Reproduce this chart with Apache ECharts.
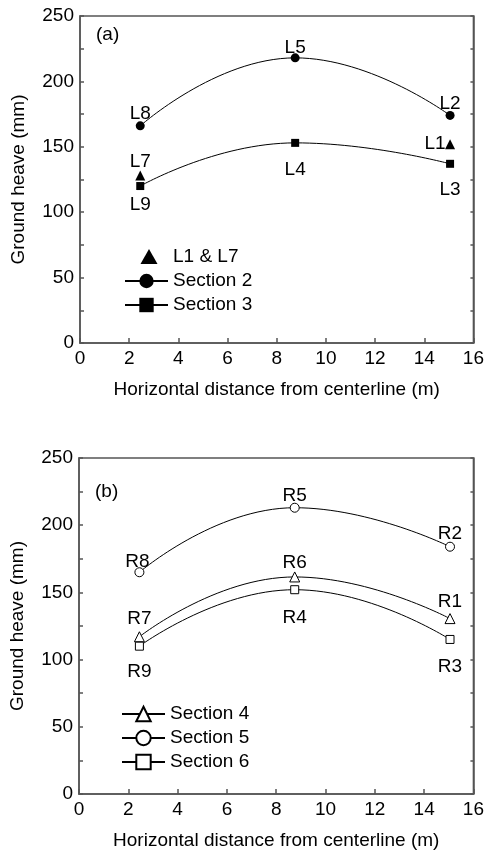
<!DOCTYPE html>
<html>
<head>
<meta charset="utf-8">
<script src="https://cdn.jsdelivr.net/npm/echarts@6/dist/echarts.min.js"></script>
<style>
html, body { margin: 0; padding: 0; background: #fff; }
#main { width: 487px; height: 853px; }
</style>
</head>
<body>
<div id="main"></div>
<script>
// distances from centerline (m)
var xPos = [2.45, 8.75, 15.05];
var xTicks = [0, 2, 4, 6, 8, 10, 12, 14, 16];
var yTicks = [0, 50, 100, 150, 200, 250];

// (a) left side
var triX = [2.45, 15.05];
var triVal = [128, 152];
var triLabels = ['L7', 'L1'];
var sec2 = [166, 218, 174];
var sec2Labels = ['L8', 'L5', 'L2'];
var sec3 = [120, 153, 137];
var sec3Labels = ['L9', 'L4', 'L3'];

// (b) right side
var sec4 = [117, 161.5, 130.5];
var sec4Labels = ['R7', 'R6', 'R1'];
var sec5 = [165, 213, 184];
var sec5Labels = ['R8', 'R5', 'R2'];
var sec6 = [110, 152, 115];
var sec6Labels = ['R9', 'R4', 'R3'];

var FONT = "'Liberation Sans', Arial, sans-serif";
var axisCol = '#555';

var func = function(){};

func.pts = function(xs, ys) {
    var out = [];
    for (var i = 0; i < ys.length; i++) {
        out.push([xs[i], ys[i]]);
    }
    return out;
};

func.xAx = function(idx) {
    return {
        type: 'value',
        gridIndex: idx,
        min: 0,
        max: 16,
        interval: 2,
        name: 'Horizontal distance from centerline (m)',
        nameLocation: 'middle',
        nameGap: 37,
        nameTextStyle: { color: '#000', fontSize: 19, fontFamily: FONT },
        axisLine: { lineStyle: { color: axisCol, width: 1.5 } },
        axisTick: { inside: true, length: 5, lineStyle: { color: axisCol, width: 1.5 } },
        axisLabel: {
            color: '#000', fontSize: 19, fontFamily: FONT, margin: 6,
            formatter: function(v) { return xTicks.indexOf(v) > -1 ? String(v) : ''; }
        },
        splitLine: { show: false }
    };
};

func.yAx = function(idx) {
    return {
        type: 'value',
        gridIndex: idx,
        min: 0,
        max: 250,
        interval: 50,
        name: 'Ground heave (mm)',
        nameLocation: 'middle',
        nameGap: 52,
        nameTextStyle: { color: '#000', fontSize: 19, fontFamily: FONT },
        axisLine: { show: true, lineStyle: { color: axisCol, width: 1.5 } },
        axisTick: { inside: true, length: 4, lineStyle: { color: axisCol, width: 1.5 } },
        minorTick: { show: true, splitNumber: 2, length: 4, lineStyle: { color: axisCol, width: 1.5 } },
        axisLabel: {
            color: '#000', fontSize: 19, fontFamily: FONT, margin: 6,
            formatter: function(v) { return yTicks.indexOf(v) > -1 ? String(v) : ''; }
        },
        splitLine: { show: false }
    };
};

func.yRight = function(idx) {
    return {
        type: 'value',
        gridIndex: idx,
        position: 'right',
        min: 0,
        max: 250,
        interval: 25,
        axisLine: { show: true, lineStyle: { color: axisCol, width: 1.5 } },
        axisTick: { inside: true, length: 3, lineStyle: { color: axisCol, width: 1.5 } },
        axisLabel: { show: false },
        splitLine: { show: false }
    };
};

func.lineSeries = function(name, xi, yi, data, symbol, size, open, names, offs) {
    var d = [];
    for (var i = 0; i < data.length; i++) {
        d.push({
            value: data[i],
            label: { offset: offs[i] }
        });
    }
    return {
        name: name,
        type: 'line',
        xAxisIndex: xi,
        yAxisIndex: yi,
        data: d,
        smooth: 0.5,
        symbol: symbol,
        symbolSize: size,
        showAllSymbol: true,
        lineStyle: { color: '#000', width: 1 },
        itemStyle: open
            ? { color: '#fff', borderColor: '#000', borderWidth: 1, opacity: 1 }
            : { color: '#000', borderColor: '#000', borderWidth: 0, opacity: 1 },
        label: {
            show: true,
            position: 'inside',
            color: '#000',
            fontSize: 19,
            fontFamily: FONT,
            formatter: function(p) { return names[p.dataIndex]; }
        },
        emphasis: { disabled: true },
        z: 3
    };
};

// triangle icon kept at its own size inside the 43x18 legend box
var triIcon = 'path://M0,0M43,18M15.5,16L32.5,16L24,1Z';

var chart = echarts.init(document.getElementById('main'), null, { renderer: 'canvas' });

var option = {
    animation: false,
    backgroundColor: '#fff',
    title: [
        { text: '(a)', left: 96, top: 25, padding: 0, textStyle: { fontSize: 19, fontWeight: 'normal', color: '#000', fontFamily: FONT } },
        { text: '(b)', left: 95, top: 482, padding: 0, textStyle: { fontSize: 19, fontWeight: 'normal', color: '#000', fontFamily: FONT } }
    ],
    grid: [
        { left: 80, top: 16, width: 396, height: 327, show: true, borderColor: axisCol, borderWidth: 1.5, backgroundColor: 'transparent', containLabel: false },
        { left: 78, top: 458, width: 400, height: 336, show: true, borderColor: axisCol, borderWidth: 1.5, backgroundColor: 'transparent', containLabel: false }
    ],
    legend: [
        {
            orient: 'vertical', left: 124, top: 247, padding: 0,
            itemWidth: 43, itemHeight: 18, itemGap: 4,
            data: [{ name: 'L1 & L7', icon: triIcon }, 'Section 2', 'Section 3'],
            textStyle: { color: '#000', fontSize: 19, fontFamily: FONT, lineHeight: 20 }
        },
        {
            orient: 'vertical', left: 121, top: 704, padding: 0,
            itemWidth: 43, itemHeight: 18, itemGap: 4,
            data: ['Section 4', 'Section 5', 'Section 6'],
            textStyle: { color: '#000', fontSize: 19, fontFamily: FONT, lineHeight: 20 }
        }
    ],
    xAxis: [func.xAx(0), func.xAx(1)],
    yAxis: [func.yAx(0), func.yRight(0), func.yAx(1), func.yRight(1)],
    series: [
        {
            name: 'L1 & L7',
            type: 'scatter',
            xAxisIndex: 0,
            yAxisIndex: 0,
            data: [
                { value: [triX[0], triVal[0]], label: { offset: [0, -14] } },
                { value: [triX[1], triVal[1]], label: { offset: [-15, 0] } }
            ],
            symbol: 'triangle',
            symbolSize: 10,
            itemStyle: { color: '#000', opacity: 1 },
            label: {
                show: true,
                position: 'inside',
                color: '#000',
                fontSize: 19,
                fontFamily: FONT,
                formatter: function(p) { return triLabels[p.dataIndex]; }
            },
            emphasis: { disabled: true },
            z: 3
        },
        func.lineSeries('Section 2', 0, 0, func.pts(xPos, sec2), 'circle', 9, false, sec2Labels, [[0, -12], [0, -10], [0, -12]]),
        func.lineSeries('Section 3', 0, 0, func.pts(xPos, sec3), 'rect', 8, false, sec3Labels, [[0, 19], [0, 27], [0, 26]]),
        func.lineSeries('Section 4', 1, 2, func.pts(xPos, sec4), 'triangle', 10, true, sec4Labels, [[0, -18], [0, -14], [0, -17]]),
        func.lineSeries('Section 5', 1, 2, func.pts(xPos, sec5), 'circle', 9, true, sec5Labels, [[-2, -10], [0, -12], [0, -13]]),
        func.lineSeries('Section 6', 1, 2, func.pts(xPos, sec6), 'rect', 8, true, sec6Labels, [[0, 26], [0, 28], [0, 27]])
    ]
};

chart.setOption(option);
</script>
</body>
</html>
